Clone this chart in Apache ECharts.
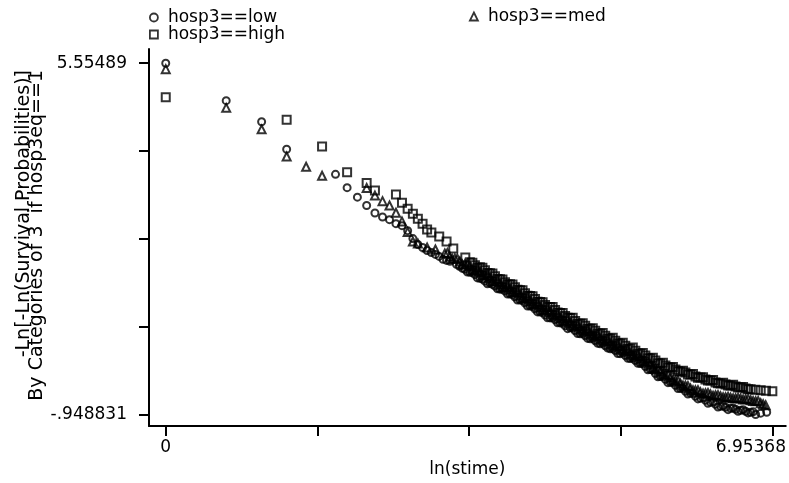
<!DOCTYPE html>
<html><head><meta charset="utf-8">
<script src="https://cdn.jsdelivr.net/npm/echarts@6/dist/echarts.min.js"></script>
<style>html,body{margin:0;padding:0;background:#fff}#c{width:789px;height:483px}</style>
</head><body><div id="c"></div>
<script>
// ---- data (x = ln(stime), y = -ln(-ln S)) ----
const seriesNames = ['hosp3==low', 'hosp3==med', 'hosp3==high'];
const lowPts = [
  [0, 5.55489], [0.693, 4.862], [1.099, 4.471], [1.386, 3.962], [1.946, 3.497], [2.079, 3.251],
  [2.197, 3.075], [2.303, 2.920], [2.398, 2.781], [2.485, 2.707], [2.565, 2.658], [2.639, 2.584],
  [2.708, 2.547], [2.773, 2.455], [2.833, 2.308], [2.890, 2.198], [2.944, 2.143], [2.996, 2.088],
  [3.045, 2.051], [3.091, 2.015], [3.135, 1.978], [3.178, 1.923], [3.219, 1.904], [3.258, 1.886],
  [3.332, 1.831], [3.367, 1.794], [3.401, 1.757],
  [3.429, 1.739], [3.486, 1.684], [3.544, 1.640], [3.601, 1.574], [3.659, 1.519], [3.716, 1.482],
  [3.774, 1.427], [3.831, 1.372], [3.889, 1.335], [3.946, 1.280], [4.003, 1.225], [4.061, 1.169],
  [4.118, 1.114], [4.176, 1.059], [4.233, 1.004], [4.291, 0.949], [4.348, 0.894], [4.406, 0.839],
  [4.463, 0.802], [4.521, 0.747], [4.578, 0.692], [4.636, 0.655], [4.693, 0.600], [4.751, 0.545],
  [4.808, 0.508], [4.866, 0.453], [4.923, 0.416], [4.980, 0.361], [5.038, 0.324], [5.095, 0.269],
  [5.153, 0.233], [5.210, 0.177], [5.268, 0.141], [5.325, 0.086], [5.383, 0.049], [5.440, -0.006],
  [5.498, -0.061], [5.555, -0.117], [5.613, -0.190], [5.670, -0.245], [5.728, -0.300], [5.785, -0.355],
  [5.843, -0.411], [5.900, -0.466], [5.957, -0.521], [6.015, -0.557], [6.072, -0.613], [6.130, -0.649],
  [6.187, -0.686], [6.245, -0.723], [6.302, -0.760], [6.360, -0.796], [6.417, -0.815], [6.475, -0.833],
  [6.532, -0.851], [6.590, -0.870], [6.647, -0.888], [6.705, -0.907], [6.762, -0.948831], [6.820, -0.925],
  [6.889, -0.907],
  [3.458, 1.690], [3.515, 1.680], [3.573, 1.580], [3.630, 1.560], [3.688, 1.470], [3.745, 1.460],
  [3.803, 1.380], [3.860, 1.370], [3.918, 1.280], [3.975, 1.270], [4.032, 1.170], [4.090, 1.160],
  [4.147, 1.060], [4.205, 1.050], [4.262, 0.950], [4.320, 0.940], [4.377, 0.840], [4.435, 0.840],
  [4.492, 0.750], [4.550, 0.740], [4.607, 0.640], [4.665, 0.650], [4.722, 0.550], [4.780, 0.550],
  [4.837, 0.460], [4.895, 0.460], [4.952, 0.370], [5.009, 0.370], [5.067, 0.280], [5.124, 0.270],
  [5.182, 0.180], [5.239, 0.190], [5.297, 0.090], [5.354, 0.090], [5.412, 0.000], [5.469, -0.010],
  [5.527, -0.120], [5.584, -0.130], [5.642, -0.250], [5.699, -0.250], [5.757, -0.360], [5.814, -0.360],
  [5.872, -0.470], [5.929, -0.470], [5.986, -0.570], [6.044, -0.560], [6.101, -0.660], [6.159, -0.640],
  [6.216, -0.740], [6.274, -0.720], [6.331, -0.810], [6.389, -0.790], [6.446, -0.860], [6.504, -0.830],
  [6.561, -0.890], [6.618, -0.860], [6.676, -0.920], [6.733, -0.900]
];
const medPts = [
  [0, 5.445], [0.693, 4.728], [1.099, 4.330], [1.386, 3.828], [1.609, 3.637], [1.792, 3.472],
  [2.303, 3.245], [2.398, 3.104], [2.485, 3.001], [2.565, 2.920], [2.639, 2.786], [2.708, 2.626],
  [2.773, 2.432], [2.833, 2.254], [2.890, 2.217], [2.996, 2.143], [3.091, 2.106],
  [3.199, 2.033], [3.256, 1.978], [3.314, 1.941], [3.371, 1.886], [3.429, 1.831], [3.486, 1.794],
  [3.544, 1.721], [3.601, 1.684], [3.659, 1.629], [3.716, 1.574], [3.774, 1.519], [3.831, 1.463],
  [3.889, 1.408], [3.946, 1.372], [4.003, 1.317], [4.061, 1.261], [4.118, 1.206], [4.176, 1.151],
  [4.233, 1.096], [4.291, 1.041], [4.348, 0.986], [4.406, 0.949], [4.463, 0.894], [4.521, 0.839],
  [4.578, 0.784], [4.636, 0.747], [4.693, 0.692], [4.751, 0.637], [4.808, 0.600], [4.866, 0.545],
  [4.923, 0.508], [4.980, 0.453], [5.038, 0.416], [5.095, 0.361], [5.153, 0.324], [5.210, 0.269],
  [5.268, 0.233], [5.325, 0.177], [5.383, 0.141], [5.440, 0.086], [5.498, 0.030], [5.555, -0.025],
  [5.613, -0.098], [5.670, -0.153], [5.728, -0.208], [5.785, -0.264], [5.843, -0.319], [5.900, -0.374],
  [5.957, -0.411], [6.015, -0.466], [6.072, -0.502], [6.130, -0.539], [6.187, -0.557], [6.245, -0.576],
  [6.302, -0.594], [6.360, -0.613], [6.417, -0.631], [6.475, -0.640], [6.532, -0.649], [6.590, -0.655],
  [6.647, -0.668], [6.705, -0.686], [6.762, -0.704], [6.820, -0.741], [6.877, -0.778],
  [3.228, 2.040], [3.285, 1.930], [3.342, 1.940], [3.400, 1.830], [3.458, 1.840], [3.515, 1.730],
  [3.573, 1.730], [3.630, 1.630], [3.688, 1.630], [3.745, 1.520], [3.803, 1.520], [3.860, 1.410],
  [3.918, 1.420], [3.975, 1.320], [4.032, 1.320], [4.090, 1.210], [4.147, 1.210], [4.205, 1.100],
  [4.262, 1.100], [4.320, 0.990], [4.377, 1.000], [4.435, 0.900], [4.492, 0.900], [4.550, 0.790],
  [4.607, 0.800], [4.665, 0.700], [4.722, 0.700], [4.780, 0.600], [4.837, 0.610], [4.895, 0.510],
  [4.952, 0.520], [5.009, 0.420], [5.067, 0.420], [5.124, 0.330], [5.182, 0.330], [5.239, 0.240],
  [5.297, 0.240], [5.354, 0.150], [5.412, 0.150], [5.469, 0.040], [5.527, 0.030], [5.584, -0.080],
  [5.642, -0.100], [5.699, -0.200], [5.757, -0.210], [5.814, -0.310], [5.872, -0.320], [5.929, -0.410],
  [5.986, -0.420], [6.044, -0.500], [6.101, -0.500], [6.159, -0.560], [6.216, -0.550], [6.274, -0.600],
  [6.331, -0.590], [6.389, -0.630], [6.446, -0.620], [6.504, -0.650], [6.561, -0.640], [6.618, -0.670],
  [6.676, -0.660], [6.733, -0.700], [6.791, -0.700], [6.848, -0.760]
];
const highPts = [
  [0, 4.923], [1.386, 4.508], [1.792, 4.012], [2.079, 3.534], [2.303, 3.337], [2.398, 3.196],
  [2.639, 3.122], [2.708, 2.970], [2.773, 2.860], [2.833, 2.768], [2.890, 2.676], [2.944, 2.584],
  [2.996, 2.474], [3.045, 2.419], [3.135, 2.345], [3.219, 2.253], [3.296, 2.125], [3.434, 1.959],
  [3.486, 1.868], [3.544, 1.813], [3.601, 1.776], [3.659, 1.721], [3.716, 1.666], [3.774, 1.610],
  [3.831, 1.555], [3.889, 1.500], [3.946, 1.463], [4.003, 1.408], [4.061, 1.353], [4.118, 1.298],
  [4.176, 1.243], [4.233, 1.188], [4.291, 1.133], [4.348, 1.078], [4.406, 1.041], [4.463, 0.986],
  [4.521, 0.931], [4.578, 0.876], [4.636, 0.839], [4.693, 0.784], [4.751, 0.729], [4.808, 0.692],
  [4.866, 0.637], [4.923, 0.600], [4.980, 0.545], [5.038, 0.508], [5.095, 0.453], [5.153, 0.416],
  [5.210, 0.361], [5.268, 0.324], [5.325, 0.269], [5.383, 0.233], [5.440, 0.177], [5.498, 0.141],
  [5.555, 0.086], [5.613, 0.049], [5.670, -0.006], [5.728, -0.043], [5.785, -0.080], [5.843, -0.117],
  [5.900, -0.153], [5.957, -0.172], [6.015, -0.208], [6.072, -0.245], [6.130, -0.264], [6.187, -0.300],
  [6.245, -0.319], [6.302, -0.355], [6.360, -0.374], [6.417, -0.392], [6.475, -0.411], [6.532, -0.429],
  [6.590, -0.447], [6.647, -0.466], [6.705, -0.484], [6.820, -0.502], [6.95368, -0.521],
  [3.515, 1.860], [3.573, 1.770], [3.630, 1.770], [3.688, 1.670], [3.745, 1.660], [3.803, 1.560],
  [3.860, 1.550], [3.918, 1.460], [3.975, 1.460], [4.032, 1.360], [4.090, 1.350], [4.147, 1.250],
  [4.205, 1.240], [4.262, 1.140], [4.320, 1.130], [4.377, 1.040], [4.435, 1.040], [4.492, 0.940],
  [4.550, 0.930], [4.607, 0.840], [4.665, 0.840], [4.722, 0.730], [4.780, 0.740], [4.837, 0.640],
  [4.895, 0.650], [4.952, 0.550], [5.009, 0.560], [5.067, 0.460], [5.124, 0.470], [5.182, 0.370],
  [5.239, 0.380], [5.297, 0.270], [5.354, 0.290], [5.412, 0.180], [5.469, 0.190], [5.527, 0.090],
  [5.584, 0.100], [5.642, 0.000], [5.699, 0.010], [5.757, -0.080], [5.814, -0.070], [5.872, -0.150],
  [5.929, -0.140], [5.986, -0.210], [6.044, -0.200], [6.101, -0.270], [6.159, -0.260], [6.216, -0.320],
  [6.274, -0.310], [6.331, -0.370], [6.389, -0.360], [6.446, -0.410], [6.504, -0.400], [6.561, -0.450],
  [6.618, -0.440], [6.676, -0.480], [6.760, -0.490], [6.880, -0.510]
];
const xTicks = [0, 1.73842, 3.47684, 5.21526, 6.95368];
const yTicks = [-0.948831, 0.677099, 2.30303, 3.92896, 5.55489];
const xLabelValues = [0, 6.95368];
const xLabelTexts = ['0', '6.95368'];
const yLabelValues = [-0.948831, 5.55489];
const yLabelTexts = ['-.948831', '5.55489'];
const xTitle = 'ln(stime)';
const yTitleLines = ['-Ln[-Ln(Survival Probabilities)]', 'By Categories of 3  if hosp3eq==1'];

// ---- chart ----
const FONT = 'DejaVu Sans';
const chart = echarts.init(document.getElementById('c'), null, { renderer: 'canvas' });
const markerStyle = { color: 'rgba(0,0,0,0)', borderColor: '#000', borderWidth: 2 };
function findLabel(vals, texts, v) {
  for (let i = 0; i < vals.length; i++) if (Math.abs(vals[i] - v) < 1e-6) return texts[i];
  return '';
}
const legendBase = {
  itemWidth: 8, itemHeight: 8, itemGap: 0, padding: 0,
  textStyle: { fontFamily: FONT, fontSize: 17, color: '#000', padding: [0, 0, 0, 5] },
  itemStyle: { color: 'rgba(0,0,0,0)', borderColor: '#000', borderWidth: 1.8 },
  selectedMode: false
};
chart.setOption({
  animation: false,
  backgroundColor: '#fff',
  grid: { left: 149, right: 3, top: 49, bottom: 54, containLabel: false },
  legend: [
    Object.assign({}, legendBase, { data: [seriesNames[0]], left: 149, top: 9 }),
    Object.assign({}, legendBase, { data: [seriesNames[2]], left: 149, top: 26 }),
    Object.assign({}, legendBase, { data: [seriesNames[1]], left: 469, top: 8 })
  ],
  xAxis: {
    type: 'value', min: -0.192, max: 7.107,
    splitLine: { show: false },
    axisLine: { onZero: false, lineStyle: { color: '#000', width: 2 } },
    axisTick: { customValues: xTicks, length: 10, lineStyle: { color: '#000', width: 2 } },
    axisLabel: {
      customValues: xLabelValues, margin: 13,
      fontFamily: FONT, fontSize: 17, color: '#000',
      formatter: v => {
        const t = findLabel(xLabelValues, xLabelTexts, v);
        return Math.abs(v - xLabelValues[1]) < 1e-6 ? '{r|' + t + '}' : t;
      },
      rich: { r: { fontFamily: FONT, fontSize: 17, color: '#000', padding: [0, 43, 0, 0] } }
    },
    name: xTitle, nameLocation: 'middle', nameGap: 29,
    nameTextStyle: { fontFamily: FONT, fontSize: 17, color: '#000' }
  },
  yAxis: {
    type: 'value', min: -1.164, max: 5.818,
    splitLine: { show: false },
    axisLine: { onZero: false, lineStyle: { color: '#000', width: 2 } },
    axisTick: { customValues: yTicks, length: 10, lineStyle: { color: '#000', width: 2 } },
    axisLabel: {
      customValues: yLabelValues, margin: 22,
      fontFamily: FONT, fontSize: 17, color: '#000',
      formatter: v => findLabel(yLabelValues, yLabelTexts, v)
    }
  },
  graphic: [{
    type: 'text', x: 31, y: 70, rotation: Math.PI / 2, silent: true,
    style: {
      text: yTitleLines.join('\n'), fill: '#000',
      font: '19px "DejaVu Sans"', align: 'right', verticalAlign: 'middle', lineHeight: 13
    }
  }],
  series: [
    { name: seriesNames[0], type: 'scatter', symbol: 'circle', symbolSize: 7, data: lowPts, itemStyle: markerStyle, emphasis: { disabled: true } },
    { name: seriesNames[1], type: 'scatter', symbol: 'triangle', symbolSize: 8, data: medPts, itemStyle: markerStyle, emphasis: { disabled: true } },
    { name: seriesNames[2], type: 'scatter', symbol: 'rect', symbolSize: 8, data: highPts, itemStyle: markerStyle, emphasis: { disabled: true } }
  ]
});
</script></body></html>
